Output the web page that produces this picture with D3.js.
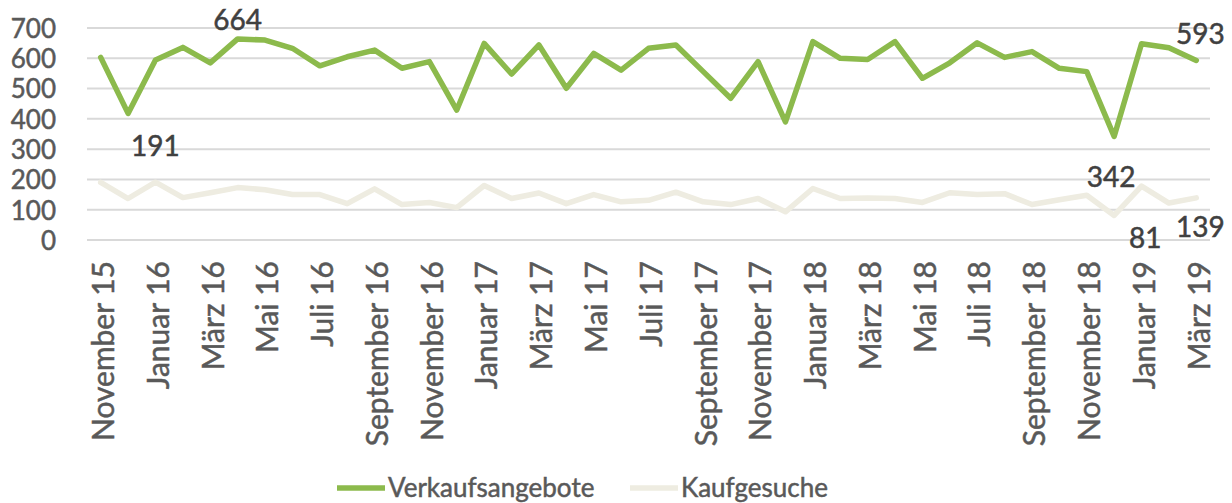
<!DOCTYPE html>
<html>
<head>
<meta charset="utf-8">
<script src="https://cdn.jsdelivr.net/npm/d3@7"></script>
<style>
  body { margin: 0; background: #fff; }
  svg text { font-family: Lato, "Open Sans", sans-serif; }
</style>
</head>
<body>
<div id="chart"></div>
<script>
// Monthly categories, November 2015 to March 2019
var months = [
  "November 15", "Dezember 15", "Januar 16", "Februar 16", "März 16", "April 16",
  "Mai 16", "Juni 16", "Juli 16", "August 16", "September 16", "Oktober 16",
  "November 16", "Dezember 16", "Januar 17", "Februar 17", "März 17", "April 17",
  "Mai 17", "Juni 17", "Juli 17", "August 17", "September 17", "Oktober 17",
  "November 17", "Dezember 17", "Januar 18", "Februar 18", "März 18", "April 18",
  "Mai 18", "Juni 18", "Juli 18", "August 18", "September 18", "Oktober 18",
  "November 18", "Dezember 18", "Januar 19", "Februar 19", "März 19"
];

var verkaufsangebote = [
  603, 418, 594, 636, 585, 664, 660, 633, 575, 605, 627, 567,
  589, 429, 649, 548, 644, 501, 616, 561, 633, 644, 556, 468,
  589, 390, 655, 600, 596, 655, 534, 585, 651, 603, 622, 567,
  556, 342, 648, 635, 593
];

var kaufgesuche = [
  190, 137, 191, 140, 156, 173, 166, 150, 150, 120, 169, 117,
  124, 107, 180, 137, 155, 120, 150, 126, 131, 158, 126, 117,
  137, 93, 170, 137, 139, 137, 124, 156, 150, 153, 117, 133,
  148, 81, 178, 122, 139
];

var yTicks = [0, 100, 200, 300, 400, 500, 600, 700];

var seriesNames = ["Verkaufsangebote", "Kaufgesuche"];
var seriesColors = ["#8cba4c", "#eeece1"];

// labelled points: series, index, offset of the label centre
var pointLabels = [
  { s: 0, i: 5, dx: 0, dy: -19 },
  { s: 1, i: 2, dx: 0, dy: -36 },
  { s: 0, i: 37, dx: -3, dy: 40 },
  { s: 1, i: 37, dx: 31, dy: 22 },
  { s: 0, i: 40, dx: 4, dy: -26 },
  { s: 1, i: 40, dx: 4, dy: 29 }
];

const width = 1232, height = 503;
const margin = { top: 28, right: 22, bottom: 263, left: 87 };

const svg = d3.select("#chart").append("svg")
  .attr("width", width)
  .attr("height", height);

var x = d3.scalePoint()
  .domain(d3.range(months.length))
  .range([margin.left, width - margin.right])
  .padding(0.5);

var y = d3.scaleLinear()
  .domain([0, 700])
  .range([height - margin.bottom, margin.top]);

// gridlines
svg.append("g")
  .selectAll("line")
  .data(yTicks)
  .enter().append("line")
  .attr("x1", margin.left)
  .attr("x2", width - margin.right)
  .attr("y1", function (d) { return y(d); })
  .attr("y2", function (d) { return y(d); })
  .attr("stroke", "#d9d9d9")
  .attr("stroke-width", 2);

// y axis labels
var yAxis = d3.axisLeft(y).tickValues(yTicks).tickSize(0).tickPadding(0);
var gy = svg.append("g")
  .attr("transform", "translate(56,0)")
  .call(yAxis);
gy.select(".domain").remove();
gy.selectAll("text")
  .attr("fill", "#595959")
  .attr("stroke", "#595959")
  .attr("stroke-width", 0.5)
  .style("font-size", "26px")
  .attr("dy", "0.36em");

// x axis labels, every second month
var xAxis = d3.axisBottom(x)
  .tickValues(d3.range(0, months.length, 2))
  .tickFormat(function (i) { return months[i]; })
  .tickSize(0);
var gx = svg.append("g")
  .attr("transform", "translate(2," + (height - margin.bottom + 21) + ")")
  .call(xAxis);
gx.select(".domain").remove();
gx.selectAll("text")
  .attr("fill", "#595959")
  .attr("stroke", "#595959")
  .attr("stroke-width", 0.5)
  .style("font-size", "30px")
  .attr("text-anchor", "end")
  .attr("transform", "rotate(-90)")
  .attr("x", 0)
  .attr("y", 0)
  .attr("dy", "0.36em");

// lines
var line = d3.line()
  .x(function (d, i) { return x(i); })
  .y(function (d) { return y(d); });

var allSeries = [verkaufsangebote, kaufgesuche];

svg.append("g")
  .selectAll("path")
  .data([1, 0])
  .enter().append("path")
  .attr("d", function (s) { return line(allSeries[s]); })
  .attr("fill", "none")
  .attr("stroke", function (s) { return seriesColors[s]; })
  .attr("stroke-width", 5.5)
  .attr("stroke-linejoin", "round")
  .attr("stroke-linecap", "round");

// data labels
svg.append("g")
  .selectAll("text")
  .data(pointLabels)
  .enter().append("text")
  .attr("x", function (d) { return x(d.i) + d.dx; })
  .attr("y", function (d) { return y(allSeries[d.s][d.i]) + d.dy; })
  .attr("dy", "0.36em")
  .attr("text-anchor", "middle")
  .attr("fill", "#404040")
  .attr("stroke", "#404040")
  .attr("stroke-width", 0.5)
  .style("font-size", "28px")
  .text(function (d) { return allSeries[d.s][d.i]; });

// legend
var legend = svg.append("g")
  .selectAll("g")
  .data(seriesNames)
  .enter().append("g")
  .attr("transform", function (d, i) { return "translate(" + [337, 630][i] + ",488)"; });

legend.append("line")
  .attr("x1", 0)
  .attr("x2", 48)
  .attr("stroke", function (d, i) { return seriesColors[i]; })
  .attr("stroke-width", 5.5);

legend.append("text")
  .attr("x", 51)
  .attr("dy", "0.36em")
  .attr("fill", "#595959")
  .attr("stroke", "#595959")
  .attr("stroke-width", 0.5)
  .style("font-size", "26px")
  .text(function (d) { return d; });
</script>
</body>
</html>
